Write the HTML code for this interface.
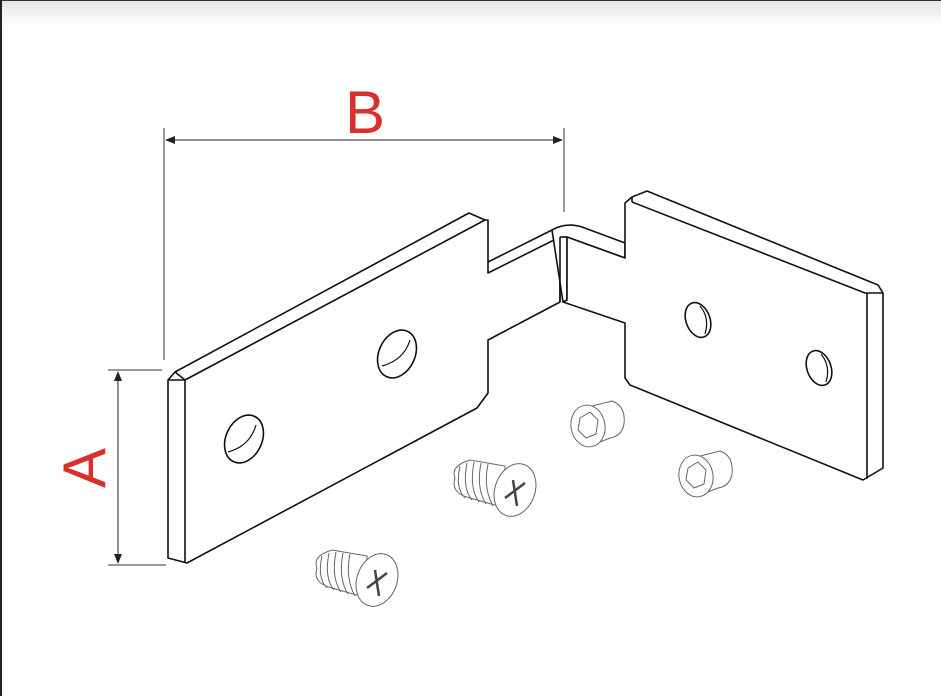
<!DOCTYPE html>
<html><head><meta charset="utf-8"><style>
html,body{margin:0;padding:0;background:#fff;}
body{width:941px;height:696px;overflow:hidden;position:relative;font-family:"Liberation Sans",sans-serif;}
.top{position:absolute;left:0;top:0;width:941px;height:26px;background:linear-gradient(#e6e6e6,#fff);border-top:1px solid #333;}
.left{position:absolute;left:0;top:0;width:2px;height:696px;background:#222;}
svg{position:absolute;left:0;top:0;}
</style></head><body>
<div class="top"></div><div class="left"></div>
<svg width="941" height="696" viewBox="0 0 941 696">
<defs>
<marker id="ar" markerWidth="10" markerHeight="8" refX="9" refY="4" orient="auto-start-reverse" markerUnits="userSpaceOnUse"><path d="M0,0 L10,4 L0,8 z" fill="#222"/></marker>
</defs>
<g stroke="#333" stroke-width="1" fill="none">
<line x1="164" y1="128" x2="164" y2="360"/>
<line x1="564" y1="128" x2="564" y2="212"/>
<line x1="166" y1="140" x2="562" y2="140" marker-start="url(#ar)" marker-end="url(#ar)" stroke="#222"/>
<line x1="108" y1="370" x2="162" y2="370"/>
<line x1="108" y1="565" x2="166" y2="565"/>
<line x1="118" y1="372" x2="118" y2="563" marker-start="url(#ar)" marker-end="url(#ar)" stroke="#222"/>
</g>
<text x="365" y="133" font-size="60" fill="#d9302c" text-anchor="middle" font-family="Liberation Sans">B</text>
<text transform="translate(105,468) rotate(-90)" font-size="60" fill="#d9302c" text-anchor="middle" font-family="Liberation Sans">A</text>
<g stroke="#111" stroke-width="1.6" fill="#fff" stroke-linejoin="round">
<path d="M168,380 L175,372 L469,213 L485,220 L488,220 L488,273 L560,237 L560,302 L488,340 L488,393 L477,408 L187,563 L168,558 Z"/>
<path d="M175,372 L185,380 L485,220" fill="none"/>
<path d="M185,380 L185,563" fill="none"/>
<path d="M168,380 L185,380" fill="none"/>
<path d="M488,262 L552,230" fill="none"/>
<path d="M552,230 Q566,222 582,227 L625,243 L625,258 L567,237 L567,300 L563,302 Z"/>
<line x1="560" y1="237" x2="560" y2="302"/>
<line x1="567" y1="237" x2="560" y2="237"/>
<path d="M625,203 L632,197 L647,191 L878,285 L883,293 L883,468 L863,480 L630,385 L625,378 L625,323 L563,302 L567,300 L567,237 L625,258 Z"/>
<path d="M632,202 L865,293 L883,293" fill="none"/>
<path d="M632,197 L632,202" fill="none"/>
<path d="M867,293 L867,479" fill="none"/>
<ellipse cx="244" cy="439" rx="18" ry="25" transform="rotate(25 244 439)"/>
<path d="M228,452 Q250,446 256,425" fill="none" stroke-width="1.2"/>
<ellipse cx="397" cy="354" rx="18" ry="25" transform="rotate(25 397 354)"/>
<path d="M382,366 Q404,360 410,340" fill="none" stroke-width="1.2"/>
<ellipse cx="698" cy="320" rx="12" ry="18" transform="rotate(-20 698 320)"/>
<path d="M700,306 Q710,318 705,334" fill="none" stroke-width="1.2"/>
<ellipse cx="819" cy="368" rx="12" ry="18" transform="rotate(-20 819 368)"/>
<path d="M821,354 Q831,366 826,382" fill="none" stroke-width="1.2"/>
</g>
<g stroke="#666" stroke-width="1" fill="#fff">
<g transform="translate(357,578)">
<path d="M-40,-10 Q-45,-22 -25,-28 L10,-22 L10,20 L-25,10 Q-45,5 -40,-10Z"/>
<path d="M-35,-22 Q-40,0 -30,10 M-28,-25 Q-33,0 -23,12 M-21,-26 Q-26,0 -16,14 M-14,-25 Q-19,0 -9,16 M-7,-24 Q-12,0 -2,18" fill="none"/>
<ellipse cx="20" cy="2" rx="20" ry="27" transform="rotate(20 20 2)"/>
<path d="M10,10 L30,-5 M18,-8 L22,18" fill="none" stroke="#444" stroke-width="2.5"/>
</g>
<g transform="translate(495,488)">
<path d="M-40,-10 Q-45,-22 -25,-28 L10,-22 L10,20 L-25,10 Q-45,5 -40,-10Z"/>
<path d="M-35,-22 Q-40,0 -30,10 M-28,-25 Q-33,0 -23,12 M-21,-26 Q-26,0 -16,14 M-14,-25 Q-19,0 -9,16 M-7,-24 Q-12,0 -2,18" fill="none"/>
<ellipse cx="20" cy="2" rx="20" ry="27" transform="rotate(20 20 2)"/>
<path d="M10,10 L30,-5 M18,-8 L22,18" fill="none" stroke="#444" stroke-width="2.5"/>
</g>
<g transform="translate(604,420)">
<path d="M-20,-12 L8,-19 Q22,-14 20,4 Q18,16 6,18 L-14,26 Z"/>
<ellipse cx="-16" cy="6" rx="17" ry="21" transform="rotate(-10 -16 6)"/>
<polygon points="-24,-2 -14,-8 -6,0 -8,14 -18,18 -26,10" fill="none"/>
</g>
<g transform="translate(712,470)">
<path d="M-20,-12 L8,-19 Q22,-14 20,4 Q18,16 6,18 L-14,26 Z"/>
<ellipse cx="-16" cy="6" rx="17" ry="21" transform="rotate(-10 -16 6)"/>
<polygon points="-24,-2 -14,-8 -6,0 -8,14 -18,18 -26,10" fill="none"/>
</g>
</g>
</svg>
</body></html>
